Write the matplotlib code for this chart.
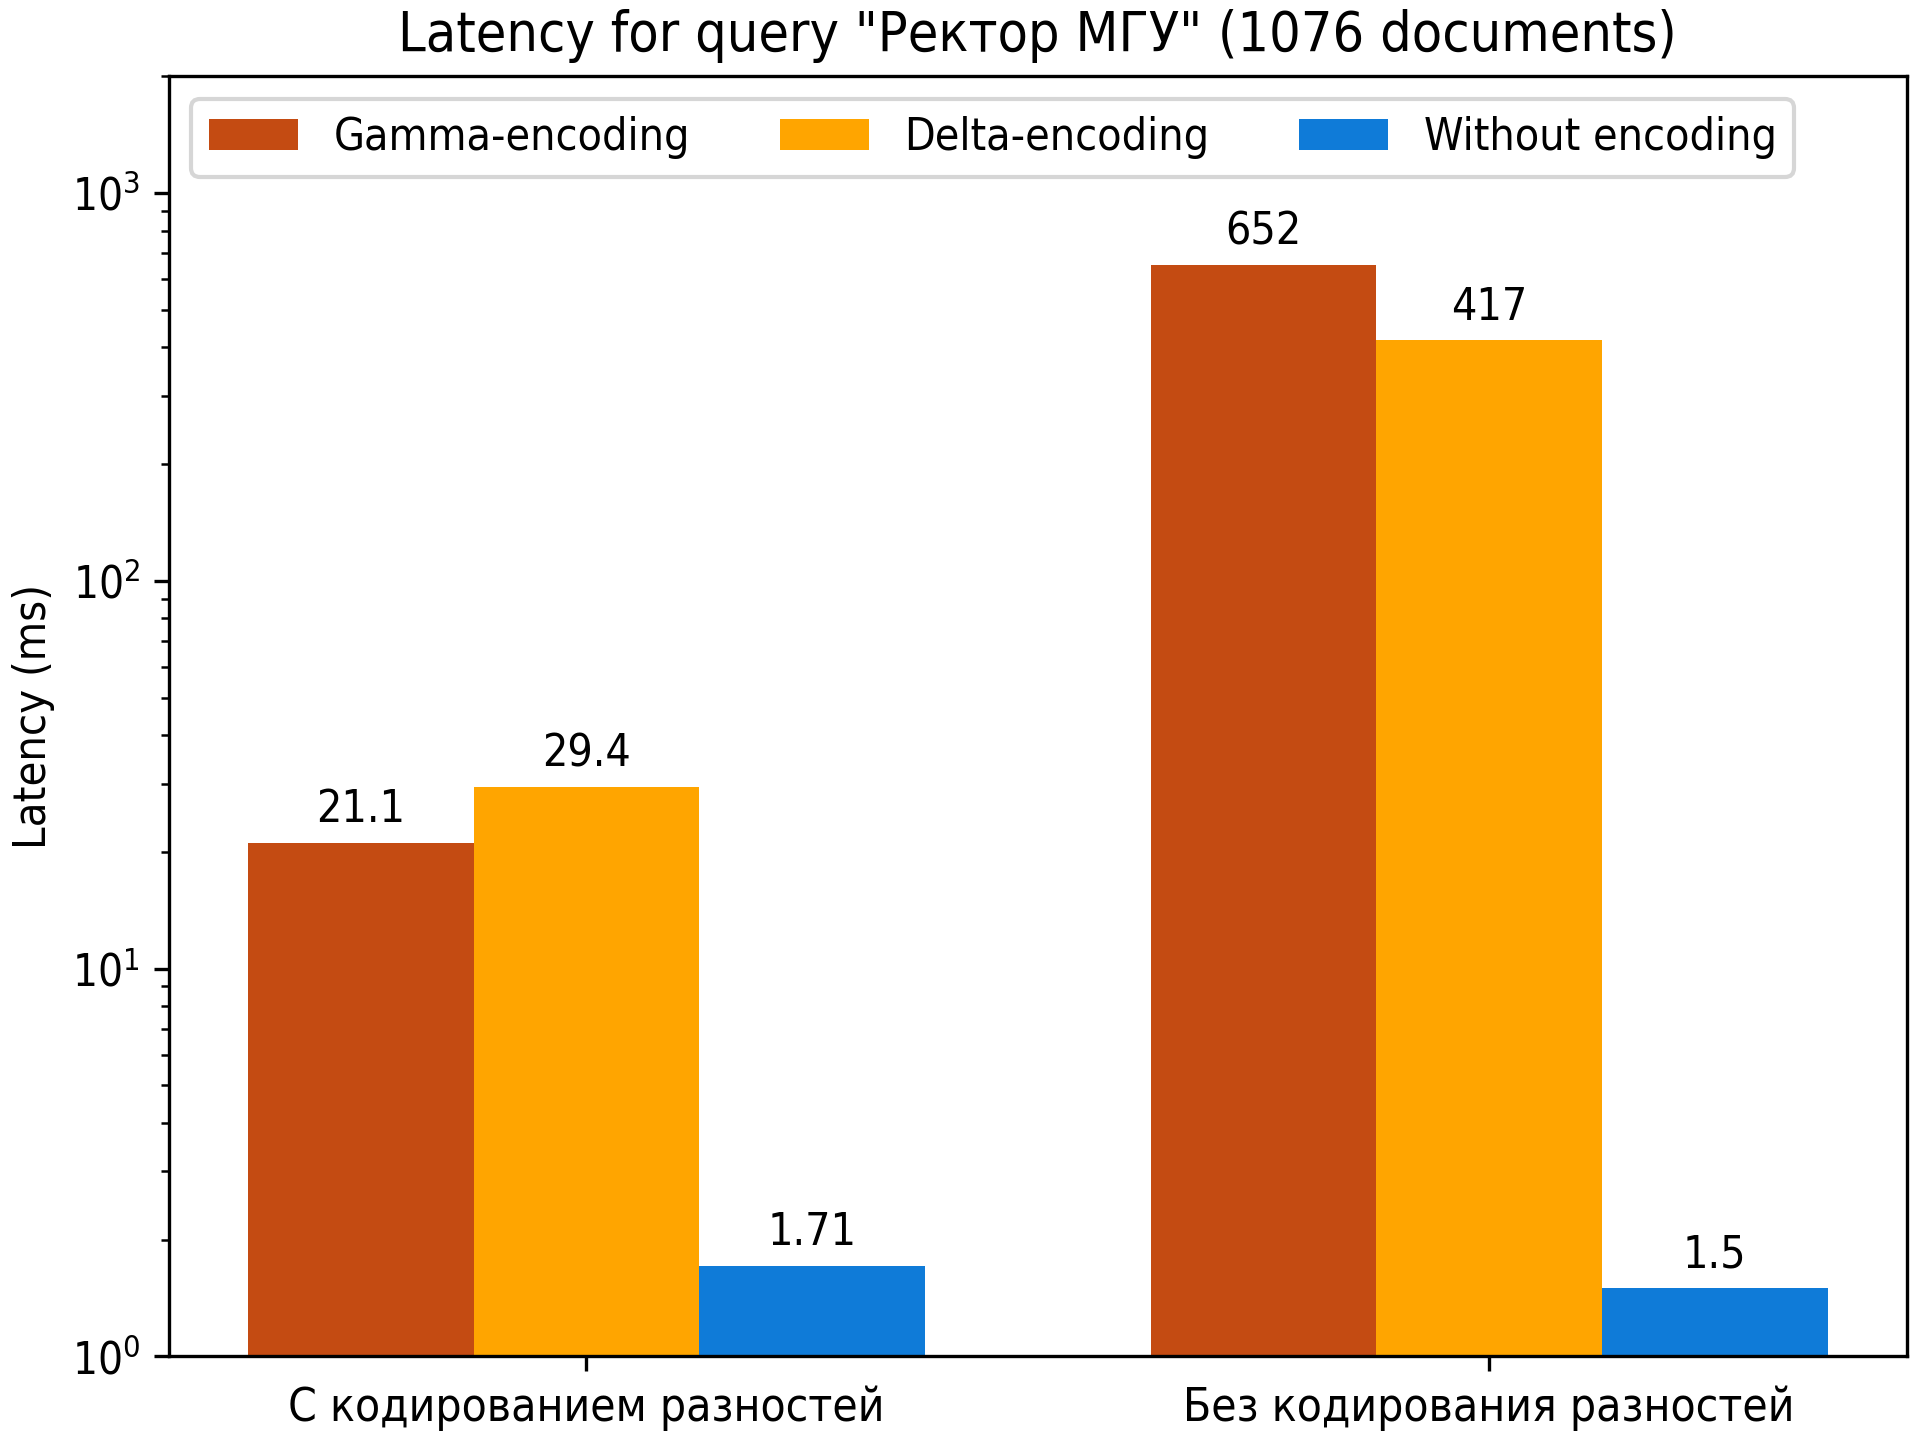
import numpy as np
import matplotlib
matplotlib.use('Agg')
import matplotlib.pyplot as plt

plt.rcParams['font.family'] = ['DejaVu Sans']
plt.rcParams['font.stretch'] = 'condensed'

groups = ['С кодированием разностей', 'Без кодирования разностей']
series = ['Gamma-encoding', 'Delta-encoding', 'Without encoding']
gamma = [21.1, 652]
delta = [29.4, 417]
plain = [1.71, 1.5]
colors = ['#c44b12', '#ffa500', '#0f7bd8']

fig, ax = plt.subplots(figsize=(6.4, 4.8), dpi=300)
fig.subplots_adjust(left=0.088, right=0.993, top=0.947, bottom=0.058)

x = np.arange(len(groups))
w = 0.25
for i, (vals, name) in enumerate(zip([gamma, delta, plain], series)):
    bars = ax.bar(x + (i - 1) * w, vals, w, label=name, color=colors[i])
    for b, v in zip(bars, vals):
        ax.annotate(f'{v:g}', (b.get_x() + b.get_width() / 2, v),
                    xytext=(0, 2.8), textcoords='offset points',
                    ha='center', va='bottom', fontsize=10.7)

ax.set_yscale('log')
ax.set_ylim(1, 2000)
ax.set_xticks(x)
ax.set_xticklabels(groups, fontsize=11)
ax.tick_params(axis='y', labelsize=10.5)
ax.set_ylabel('Latency (ms)', fontsize=10.8)
ax.set_title('Latency for query "Ректор МГУ" (1076 documents)', fontsize=13.3)
ax.legend(loc='upper left', ncol=3, fontsize=10.7)

fig.savefig('out.png', dpi=300)
